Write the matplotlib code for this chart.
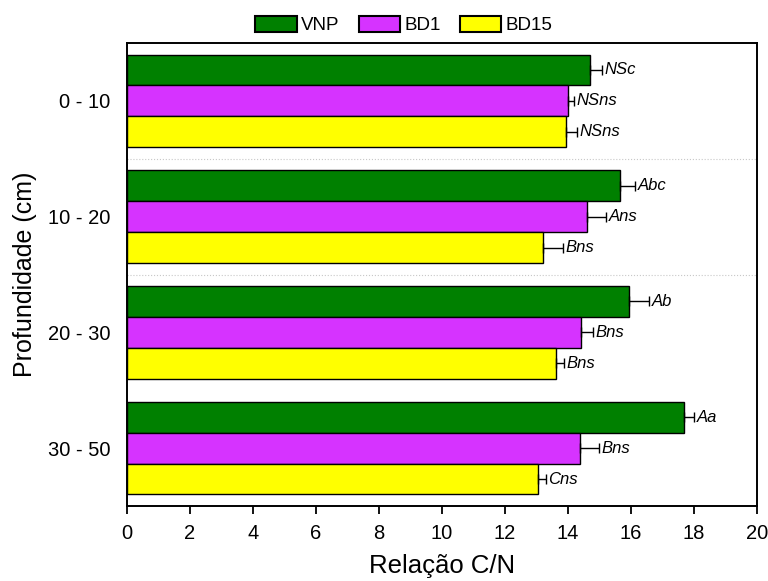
import numpy as np
import matplotlib
matplotlib.use("Agg")
import matplotlib.pyplot as plt

plt.rcParams['font.family'] = ['Liberation Sans', 'DejaVu Sans']

# Dados: relação C/N por profundidade e tratamento
profundidades = ['0 - 10', '10 - 20', '20 - 30', '30 - 50']
tratamentos = ['VNP', 'BD1', 'BD15']
cores = ['#008000', '#D633FF', '#FFFF00']

vnp = [14.70, 15.65, 15.95, 17.68]
bd1 = [14.01, 14.59, 14.41, 14.39]
bd15 = [13.93, 13.22, 13.62, 13.06]

vnp_err = [0.37, 0.48, 0.63, 0.32]
bd1_err = [0.18, 0.63, 0.37, 0.60]
bd15_err = [0.35, 0.63, 0.25, 0.24]

vnp_letras = ['NSc', 'Abc', 'Ab', 'Aa']
bd1_letras = ['NSns', 'Ans', 'Bns', 'Bns']
bd15_letras = ['NSns', 'Bns', 'Bns', 'Cns']

valores = [vnp, bd1, bd15]
erros = [vnp_err, bd1_err, bd15_err]
letras = [vnp_letras, bd1_letras, bd15_letras]

fig = plt.figure(figsize=(7.68, 5.81), dpi=100)
ax = fig.add_axes([127 / 768, 1 - 506 / 581, 630 / 768, 463 / 581])

y = np.arange(len(profundidades))
h = 0.267

for i, (nome, cor) in enumerate(zip(tratamentos, cores)):
    pos = y + (i - 1) * h
    ax.barh(pos, valores[i], height=h, color=cor, edgecolor='black',
            linewidth=1.0, label=nome)
    ax.errorbar(valores[i], pos, xerr=[np.zeros(4), erros[i]], fmt='none',
                ecolor='black', elinewidth=1.0, capsize=3.5, capthick=1.0)
    for v, e, p, t in zip(valores[i], erros[i], pos, letras[i]):
        ax.text(v + e + 0.08, p, t, fontsize=12, style='italic',
                va='center', ha='left')

# linhas pontilhadas entre as camadas
for yl in [0.5, 1.5]:
    ax.axhline(yl, color='#c8c8c8', linestyle=':', linewidth=0.8, zorder=0)

ax.set_xlim(0, 20)
ax.set_ylim(3.5, -0.5)
ax.set_xticks(np.arange(0, 21, 2))
ax.set_yticks(y)
ax.set_yticklabels(profundidades)
ax.tick_params(axis='x', direction='out', length=6, width=1.3,
               labelsize=14.5, pad=7)
ax.tick_params(axis='y', length=0, labelsize=14.5, pad=12)
for s in ax.spines.values():
    s.set_linewidth(1.4)

ax.set_xlabel('Relação C/N', fontsize=18.5, labelpad=8)
ax.set_ylabel('Profundidade (cm)', fontsize=18, labelpad=8)

leg = fig.legend(loc='center', bbox_to_anchor=(404 / 768, 1 - 25 / 581),
                 ncol=3, frameon=False, fontsize=13.5, handlelength=2.2,
                 handleheight=1.0, handletextpad=0.25, columnspacing=1.0)
for p in leg.get_patches():
    p.set_linewidth(1.5)

fig.savefig('out.png', dpi=100)
